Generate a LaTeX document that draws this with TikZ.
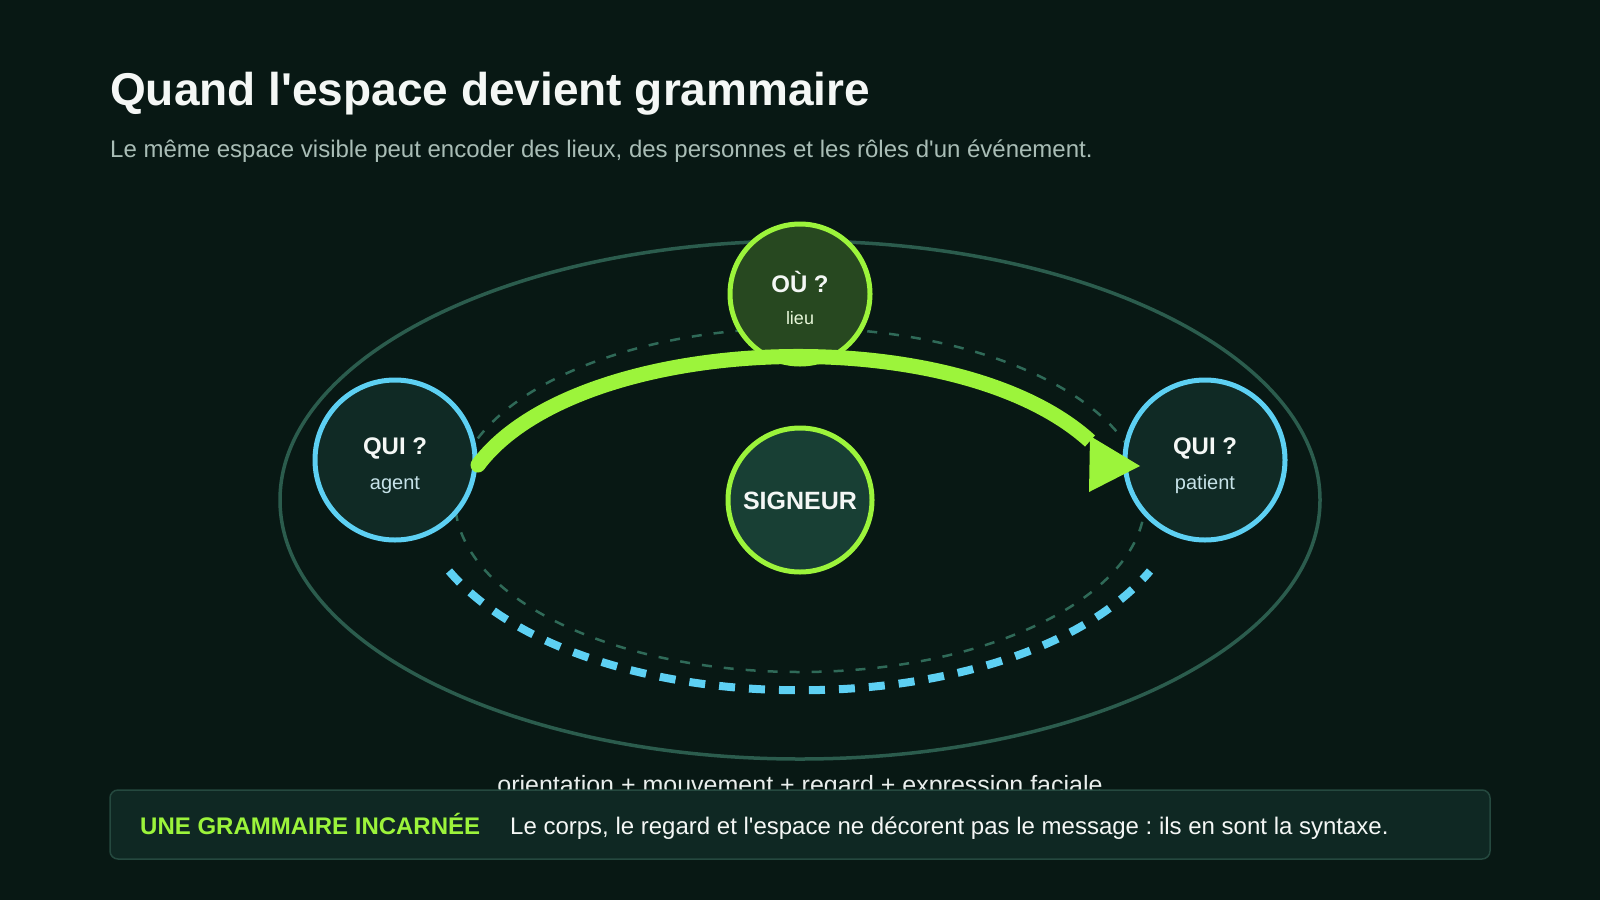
\documentclass[tikz,border=0pt]{standalone}
\usepackage{fontspec}
\setmainfont{Liberation Sans}[Ligatures=TeXOff]
\definecolor{bg}{HTML}{081814}
\definecolor{ringc}{HTML}{2B5C4D}
\definecolor{innerc}{HTML}{2F6A58}
\definecolor{lime}{HTML}{9CF43B}
\definecolor{sky}{HTML}{5DD0F3}
\definecolor{quifill}{HTML}{102A25}
\definecolor{oufill}{HTML}{274820}
\definecolor{sigfill}{HTML}{183F34}
\definecolor{subc}{HTML}{A9BDB6}
\definecolor{smallc}{HTML}{C6E2E8}
\definecolor{boxfill}{HTML}{0F2823}
\definecolor{boxline}{HTML}{25493F}
\definecolor{whitec}{HTML}{F4F7F5}
\tikzset{
  fs/.style={font=\fontsize{#1}{#1}\selectfont},
  fsb/.style={font=\bfseries\fontsize{#1}{#1}\selectfont},
  rolecircle/.style={circle, draw=sky, line width=5pt, fill=quifill, minimum size=160pt, inner sep=0pt},
  oucircle/.style={circle, draw=lime, line width=5pt, fill=oufill, minimum size=140pt, inner sep=0pt},
  sigcircle/.style={circle, draw=lime, line width=5pt, fill=sigfill, minimum size=144pt, inner sep=0pt},
  headtxt/.style={text=whitec, fsb=24, inner sep=0pt, anchor=base},
  subtxt/.style={text=smallc, fs=20, inner sep=0pt, anchor=base},
}
\begin{document}
\frenchspacing
\begin{tikzpicture}[x=1pt,y=-1pt]
\fill[bg] (0,0) rectangle (1600,900);
\useasboundingbox (0,0) rectangle (1600,900);

% title
\node[anchor=base west, inner sep=0pt, text=whitec, fsb=46] (title) at (110,105) {Quand l'espace devient grammaire};
\node[anchor=base west, inner sep=0pt, text=subc, fs=24] (subtitle) at (110,157) {Le même espace visible peut encoder des lieux, des personnes et les rôles d'un événement.};

% rings
\draw[ringc, line width=3.5pt] (800,500) ellipse [x radius=520, y radius=259];
\draw[innerc, line width=2.5pt, dash pattern=on 10pt off 12pt] (800,500) ellipse [x radius=345, y radius=172];

% blue dashed arc
\coordinate (bstart) at (449,571);
\coordinate (bend) at (1150,571);
\draw[sky, line width=8pt, dash pattern=on 16pt off 14pt] (bstart) .. controls (585,730) and (1015,730) .. (bend);

% circles
\node[rolecircle] (agent) at (395,460) {};
\node[rolecircle] (patient) at (1205,460) {};
\node[oucircle] (ou) at (800,294) {};
\node[sigcircle] (sig) at (800,500) {};

\node[headtxt] (agentT) at (395,454) {QUI ?};
\node[subtxt] (agentS) at (395,489) {agent};
\node[headtxt] (patientT) at (1205,454) {QUI ?};
\node[subtxt] (patientS) at (1205,489) {patient};
\node[headtxt] (ouT) at (800,292) {OÙ ?};
\node[subtxt, text=whitec!85!lime, fs=18] (ouS) at (800,324) {lieu};
\node[headtxt, fsb=25] (sigT) at (800,509) {SIGNEUR};

% green movement arrow
\coordinate (gstart) at (478,465);
\coordinate (gend) at (1090,441);
\coordinate (gtip) at (1140,466);
\draw[lime, line width=15pt, line cap=butt] (gstart) .. controls (578,332) and (955,318) .. (gend);
\fill[lime] (gstart) circle[radius=7.5pt];
\fill[lime] (gtip) -- (1089,492) -- (1090,436) -- cycle;

% bottom caption
\node[anchor=base, inner sep=0pt, text=whitec!85!subc, fs=25] (caption) at (800,793) {orientation + mouvement + regard + expression faciale};

% bottom box
\draw[boxline, fill=boxfill, line width=1.5pt, rounded corners=8pt] (110,790) rectangle (1490,859);
\node[anchor=base west, inner sep=0pt, text=lime, fsb=24] (boxhead) at (140,834) {UNE GRAMMAIRE INCARNÉE};
\node[anchor=base west, inner sep=0pt, text=whitec, fs=24] (boxtext) at (510,834) {Le corps, le regard et l'espace ne décorent pas le message : ils en sont la syntaxe.};
\end{tikzpicture}
\end{document}
